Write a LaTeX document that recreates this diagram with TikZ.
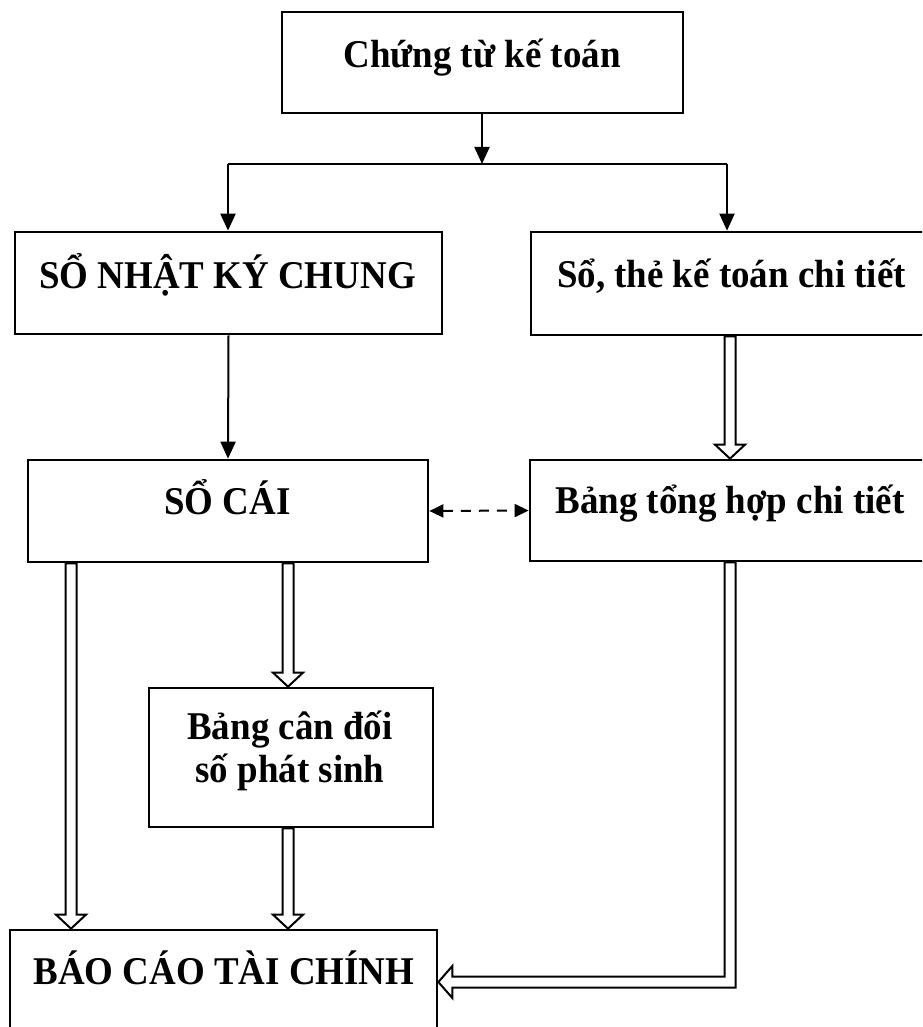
\documentclass[tikz,border=0pt]{standalone}
\usepackage{fontspec}
\setmainfont{Liberation Serif}[FakeStretch=0.94]
\usetikzlibrary{arrows.meta,calc}
\tikzset{
  box/.style={draw, line width=2.7pt, rectangle, inner sep=0pt},
  lbl/.style={anchor=base, inner sep=0pt, font=\bfseries\fontsize{39.3}{46}\selectfont},
  link/.style={line width=2pt},
  arr/.style={link, -{Triangle[length=17pt,width=15pt]}},
  dasharr/.style={link, dash pattern=on 10pt off 8pt, {Triangle[length=14pt,width=13pt]}-{Triangle[length=14pt,width=13pt]}},
  fat/.style={line width=2pt, line join=miter},
}
\newcommand{\fatdown}[2]{%
  \draw[fat] let \p1=#1, \p2=#2 in
    (\x2-5.5pt,\y1) -- (\x2-5.5pt,\y2+14pt) -- (\x2-15pt,\y2+14pt) -- (\x2,\y2)
    -- (\x2+15pt,\y2+14pt) -- (\x2+5.5pt,\y2+14pt) -- (\x2+5.5pt,\y1) -- cycle;}
\begin{document}
\begin{tikzpicture}[x=1pt,y=-1pt]
\useasboundingbox (0,0) rectangle (922,1027);
\fill[white] (0,0) rectangle (922,1027);
\clip (0,0) rectangle (922,1027);
% boxes
\node[box, minimum width=401pt, minimum height=101pt] (b1) at (482.5,62.5) {};
\node[box, minimum width=427pt, minimum height=102pt] (b2) at (228.5,283) {};
\node[box, minimum width=409pt, minimum height=103pt] (b3) at (735.5,283.5) {};
\node[box, minimum width=400pt, minimum height=102pt] (b4) at (228,511) {};
\node[box, minimum width=410pt, minimum height=101pt] (b5) at (735,510.5) {};
\node[box, minimum width=284pt, minimum height=139pt] (b6) at (291,757.5) {};
\node[box, minimum width=427pt, minimum height=115pt] (b7) at (223.5,987.5) {};
% labels
\node[lbl] (t1) at (482,68) {Chứng từ kế toán};
\node[lbl] (t2) at (227.5,288) {SỔ NHẬT KÝ CHUNG};
\node[lbl] (t3) at (731.5,287) {Sổ, thẻ kế toán chi tiết};
\node[lbl] (t4) at (227.5,514) {SỔ CÁI};
\node[lbl] (t5) at (730,513) {Bảng tổng hợp chi tiết};
\node[lbl] (t6a) at (290,739) {Bảng cân đối};
\node[lbl] (t6b) at (290,782) {số phát sinh};
\node[lbl] (t7) at (224,984) {BÁO CÁO TÀI CHÍNH};
% helper coordinates
\coordinate (sp) at (482,164);
\coordinate (spL) at (228,164);
\coordinate (spR) at (727,164);
\coordinate (xR) at (730,0);
\coordinate (xA) at (71,0);
\coordinate (xB) at (288,0);
\coordinate (yB) at (0,982);
% thin connectors
\draw[arr] (b1.south -| sp) -- (sp);
\draw[link] (spL) -- (spR);
\draw[arr] (spL) -- (b2.north -| spL);
\draw[arr] (spR) -- (b3.north -| spR);
\draw[arr] (b2.south) -- (b4.north);
\draw[dasharr] (b4.east) -- (b5.west);
% hollow arrows
\fatdown{(b3.south -| xR)}{(b5.north -| xR)}
\fatdown{(b4.south -| xA)}{(b7.north -| xA)}
\fatdown{(b4.south -| xB)}{(b6.north -| xB)}
\fatdown{(b6.south -| xB)}{(b7.north -| xB)}
\draw[fat] let \p1=(b5.south -| xR), \p2=(b7.east |- yB) in
  (\x1-5.5pt,\y1) -- (\x1-5.5pt,\y2+5.5pt) -- (\x2+14pt,\y2+5.5pt) -- (\x2+14pt,\y2+16pt)
  -- (\x2,\y2) -- (\x2+14pt,\y2-16pt) -- (\x2+14pt,\y2-5.5pt) -- (\x1+5.5pt,\y2-5.5pt)
  -- (\x1+5.5pt,\y1) -- cycle;
\end{tikzpicture}
\end{document}
